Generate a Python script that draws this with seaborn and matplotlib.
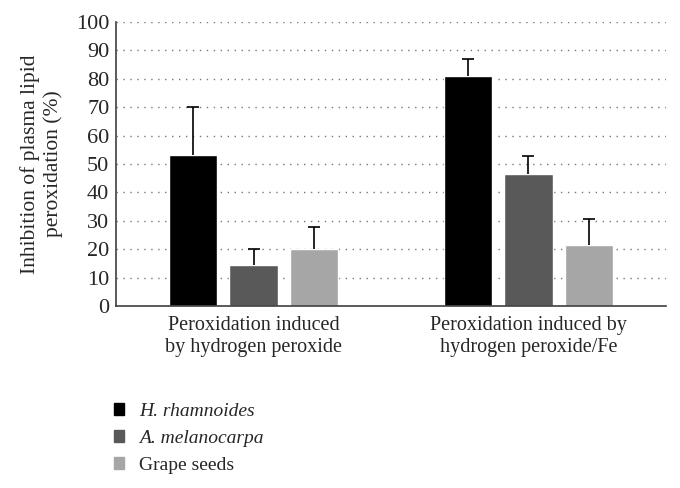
import pandas as pd
import matplotlib.pyplot as plt
import seaborn as sns

conditions = ["Peroxidation induced\nby hydrogen peroxide",
              "Peroxidation induced by\nhydrogen peroxide/Fe"]
extracts = ["H. rhamnoides", "A. melanocarpa", "Grape seeds"]
means_h2o2 = [53.2, 14.5, 20.2]
means_h2o2_fe = [81.0, 46.6, 21.3]
err_h2o2 = [16.9, 5.6, 7.6]
err_h2o2_fe = [6.1, 6.1, 9.3]
colors = ["#000000", "#595959", "#a6a6a6"]

df = pd.DataFrame({
    "condition": [conditions[0]] * 3 + [conditions[1]] * 3,
    "extract": extracts * 2,
    "value": means_h2o2 + means_h2o2_fe,
    "err": err_h2o2 + err_h2o2_fe,
})

sns.set_style("white")
plt.rcParams['font.family'] = ['Liberation Serif', 'DejaVu Serif']

fig = plt.figure(figsize=(6.8, 4.88), dpi=100)
ax = fig.add_axes([0.171, 0.373, 0.808, 0.582])

sns.barplot(data=df, x="condition", y="value", hue="extract",
            hue_order=extracts, palette=colors, width=0.66, gap=0.2,
            errorbar=None, saturation=1, ax=ax, zorder=2, legend=False)

# upper-only error bars placed at the bar centres
bar_groups = list(ax.containers)
for i, bars in enumerate(bar_groups):
    xs = [b.get_x() + b.get_width() / 2 for b in bars]
    sub = df[df["extract"] == extracts[i]]
    eb = ax.errorbar(xs, sub["value"], yerr=[[0] * len(xs), sub["err"]],
                     fmt="none", ecolor="black", elinewidth=1.2, capsize=4.5,
                     capthick=1.2, zorder=3)
    eb[1][0].set_visible(False)  # drop the cap sitting on the bar top

ax.set_ylim(0, 100)
ax.set_xlim(-0.5, 1.5)
ax.set_yticks(range(0, 101, 10))
ax.yaxis.grid(True, linestyle=(0, (1, 4)), color="#777777", linewidth=1)
ax.set_axisbelow(True)
for s in ["top", "right"]:
    ax.spines[s].set_visible(False)
for s in ["left", "bottom"]:
    ax.spines[s].set_color("#404040")
    ax.spines[s].set_linewidth(1.2)
ax.tick_params(axis="y", length=0, labelsize=16, pad=5)
ax.tick_params(axis="x", length=0, labelsize=14.5, pad=7)
for t in ax.get_xticklabels():
    t.set_linespacing(1.25)
ax.set_xlabel("")
ax.set_ylabel("Inhibition of plasma lipid\nperoxidation (%)", fontsize=15.5,
              labelpad=9, linespacing=1.25)

handles = [plt.Rectangle((0, 0), 1, 1, color=c) for c in colors]
leg = fig.legend(handles, extracts, loc="upper left",
                 bbox_to_anchor=(0.167, 0.174), frameon=False,
                 fontsize=14, handlelength=0.55, handleheight=0.55,
                 handletextpad=0.75, labelspacing=0.5, borderaxespad=0,
                 borderpad=0)
leg.get_texts()[0].set_style("italic")
leg.get_texts()[1].set_style("italic")

fig.savefig("out.png", dpi=100)
